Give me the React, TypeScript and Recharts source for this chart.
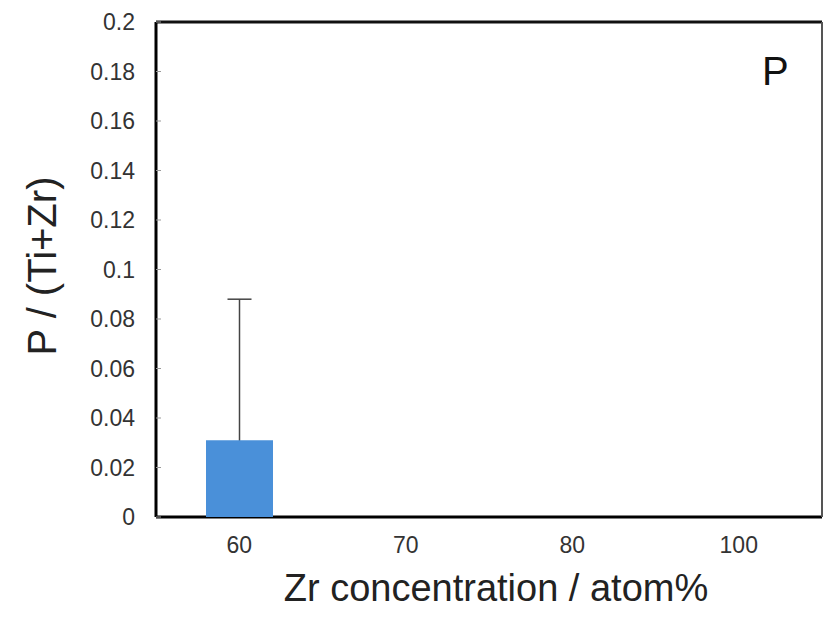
import React from 'react';
import { BarChart, Bar, XAxis, YAxis, ErrorBar } from 'recharts';

const categories = ['60', '70', '80', '100'];
const values = [0.031, 0, 0, 0];
const errorsPlus = [0.057, 0, 0, 0];
const yTicks = [0, 0.02, 0.04, 0.06, 0.08, 0.1, 0.12, 0.14, 0.16, 0.18, 0.2];

const data = categories.map((c, i) => ({
  zr: c,
  value: values[i],
  err: errorsPlus[i],
}));

const FONT = '"Liberation Sans", Arial, sans-serif';

export default function App() {
  return (
    <div style={{ width: 823, height: 618 }}>
      <style>{'body{margin:0}'}</style>
      <BarChart
        width={823}
        height={618}
        data={data}
        margin={{ top: 21, right: 0, bottom: 0, left: 0 }}
      >
        <XAxis
          xAxisId="main"
          dataKey="zr"
          height={101}
          axisLine={{ stroke: '#000', strokeWidth: 3 }}
          tickLine={false}
          tickSize={0}
          tickMargin={20}
          tick={{ fill: '#333', fontSize: 23, fontFamily: FONT }}
          label={{
            content: () => (
              <text x={496} y={601} textAnchor="middle" fontSize={38} fontFamily={FONT} fill="#222">
                Zr concentration / atom%
              </text>
            ),
          }}
        />
        <XAxis xAxisId="err" dataKey="zr" hide height={0} />
        <XAxis
          xAxisId="top"
          dataKey="zr"
          orientation="top"
          height={1}
          tick={false}
          tickLine={false}
          axisLine={{ stroke: '#111', strokeWidth: 3 }}
          label={{
            content: () => (
              <text x={762} y={85} fontSize={40} fontFamily={FONT} fill="#111">
                P
              </text>
            ),
          }}
        />
        <YAxis
          yAxisId="left"
          width={156}
          domain={[0, 0.2]}
          ticks={yTicks}
          interval={0}
          axisLine={{ stroke: '#000', strokeWidth: 3 }}
          tickLine={{ stroke: '#999', strokeWidth: 1 }}
          tickSize={-5}
          tickMargin={26}
          tick={{ fill: '#333', fontSize: 23, fontFamily: FONT }}
          label={{
            content: () => (
              <text
                x={56}
                y={266}
                textAnchor="middle"
                fontSize={40}
                fontFamily={FONT}
                fill="#222"
                transform="rotate(-90 56 266)"
              >
                P / (Ti+Zr)
              </text>
            ),
          }}
        />
        <YAxis
          yAxisId="right"
          orientation="right"
          width={1}
          domain={[0, 0.2]}
          tick={false}
          tickLine={false}
          axisLine={{ stroke: '#555', strokeWidth: 2 }}
        />
        <Bar
          xAxisId="err"
          yAxisId="left"
          dataKey="value"
          fill="none"
          barSize={67}
          isAnimationActive={false}
        >
          <ErrorBar
            dataKey={(d: any) => [d.value, d.err]}
            width={12}
            stroke="#444"
            strokeWidth={1.5}
            direction="y"
            {...({ zIndex: 350 } as any)}
          />
        </Bar>
        <Bar
          xAxisId="main"
          yAxisId="left"
          dataKey="value"
          fill="#4A90D9"
          barSize={67}
          isAnimationActive={false}
          {...({ zIndex: 600 } as any)}
        />
      </BarChart>
    </div>
  );
}
